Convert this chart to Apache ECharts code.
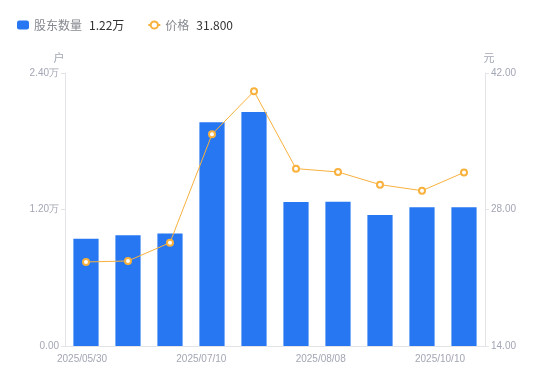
<!DOCTYPE html>
<html><head><meta charset="utf-8">
<script src="https://cdn.jsdelivr.net/npm/echarts@6/dist/echarts.min.js"></script>
<style>html,body{margin:0;padding:0;background:#fff}#c{width:550px;height:381px}</style>
</head><body><div id="c"></div>
<script>
const categories = ['2025/05/30','2025/06/13','2025/06/30','2025/07/10','2025/07/18','2025/07/31','2025/08/08','2025/08/29','2025/09/30','2025/10/10'];
const holders = [9430, 9730, 9900, 19660, 20570, 12660, 12690, 11520, 12190, 12200];
const prices = [22.62, 22.72, 24.60, 35.71, 40.12, 32.19, 31.85, 30.55, 29.93, 31.80];
const shownLabelIdx = [0, 3, 6, 9];
const leftTicks = { min: 0, max: 24000, interval: 12000 };
const rightTicks = { min: 14, max: 42, interval: 14 };

const lastHolder = holders[holders.length - 1];
const lastPrice = prices[prices.length - 1];
const font = '"Noto Sans CJK SC", "Liberation Sans", sans-serif';
const chart = echarts.init(document.getElementById('c'));
chart.setOption({
  animation: false,
  textStyle: { fontFamily: font },
  legend: {
    left: 12, top: 14, itemGap: 23, itemWidth: 12, itemHeight: 9,
    data: [
      { name: '股东数量', icon: 'roundRect' },
      { name: '价格' }
    ],
    formatter: function (n) {
      if (n === '股东数量') return '{n|' + n + '}{v|' + (lastHolder / 10000).toFixed(2) + '万}';
      return '{n|' + n + '}{v|' + lastPrice.toFixed(3) + '}';
    },
    textStyle: {
      rich: {
        n: { color: '#85888f', fontSize: 12, fontFamily: font, padding: [0, 7, 0, 0] },
        v: { color: '#333', fontSize: 12, fontFamily: font }
      }
    }
  },
  grid: [
    { left: 65, right: 65, top: 73, bottom: 35 },
    { left: 82, right: 110, top: 73, bottom: 35 }
  ],
  xAxis: [
    {
      type: 'category', data: categories, gridIndex: 0,
      axisLine: { lineStyle: { color: '#e3e4e8' } },
      axisTick: { show: false },
      axisLabel: { show: false }
    },
    {
      type: 'category', gridIndex: 1, boundaryGap: false,
      data: shownLabelIdx.map(i => categories[i]),
      axisLine: { show: false }, axisTick: { show: false },
      axisLabel: { color: '#a3a6b4', fontSize: 10, fontFamily: 'Liberation Sans, sans-serif', margin: 8, interval: 0 }
    }
  ],
  yAxis: [
    {
      type: 'value', gridIndex: 0, name: '户', min: leftTicks.min, max: leftTicks.max, interval: leftTicks.interval,
      nameTextStyle: { color: '#a3a6b4', fontSize: 11, padding: [0, 12, 0, 0] }, nameGap: 10,
      axisLine: { show: true, lineStyle: { color: '#e3e4e8' } },
      axisTick: { show: true, length: 4, lineStyle: { color: '#e3e4e8' } },
      splitLine: { show: false },
      axisLabel: { color: '#a3a6b4', fontSize: 10, fontFamily: 'Liberation Sans, sans-serif', margin: 6,
        formatter: v => v === 0 ? '0.00' : (v / 10000).toFixed(2) + '万' }
    },
    {
      type: 'value', gridIndex: 0, name: '元', min: rightTicks.min, max: rightTicks.max, interval: rightTicks.interval,
      nameTextStyle: { color: '#a3a6b4', fontSize: 11, padding: [0, 0, 0, 8] }, nameGap: 10,
      axisLine: { show: true, lineStyle: { color: '#e3e4e8' } },
      axisTick: { show: true, length: 4, lineStyle: { color: '#e3e4e8' } },
      splitLine: { show: false },
      axisLabel: { color: '#a3a6b4', fontSize: 10, fontFamily: 'Liberation Sans, sans-serif', margin: 6,
        formatter: v => v.toFixed(2) }
    },
    {
      type: 'value', gridIndex: 1, show: false
    }
  ],
  series: [
    {
      name: '股东数量', type: 'bar', data: holders, xAxisIndex: 0, yAxisIndex: 0,
      barWidth: '60%', itemStyle: { color: '#2777f2' }
    },
    {
      name: '价格', type: 'line', data: prices, xAxisIndex: 0, yAxisIndex: 1,
      symbol: 'circle', symbolSize: 6, showAllSymbol: true,
      lineStyle: { color: '#f8b13d', width: 1 },
      itemStyle: { color: '#fff', borderColor: '#f8b13d', borderWidth: 2 }
    }
  ]
});
</script></body></html>
